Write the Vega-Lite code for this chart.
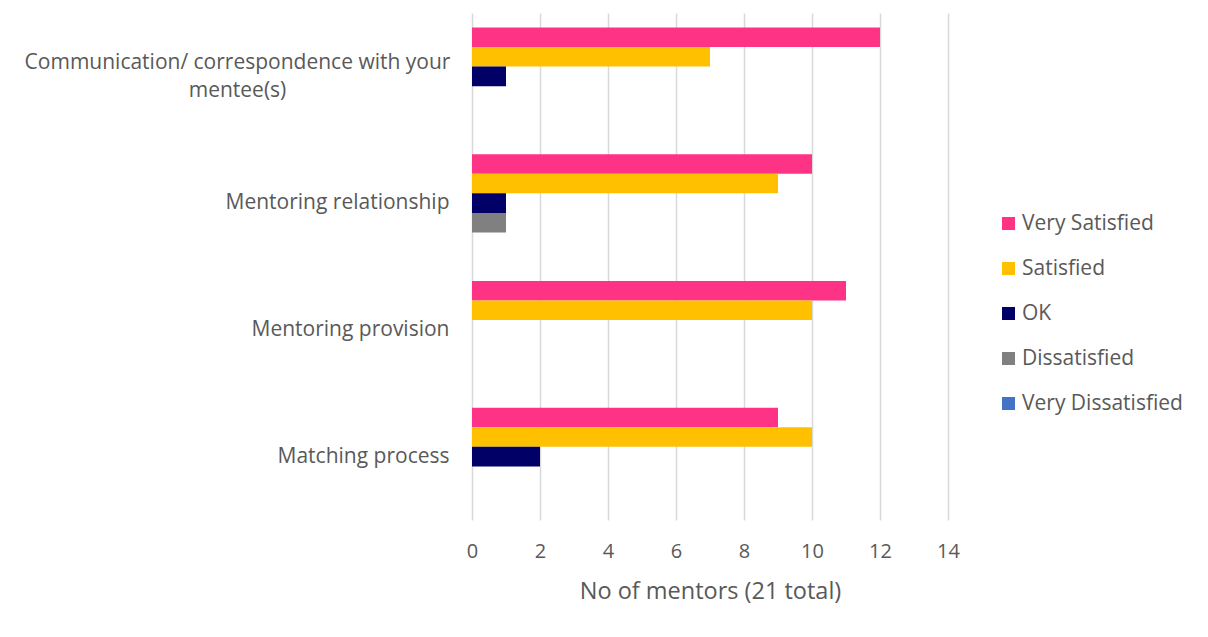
{
  "$schema": "https://vega.github.io/schema/vega-lite/v6.json",
  "width": 476,
  "height": 507,
  "autosize": {"type": "none"},
  "padding": {"left": 472, "top": 13, "right": 260, "bottom": 117},
  "background": "white",
  "config": {
    "font": "Open Sans",
    "view": {"stroke": null},
    "axis": {"labelColor": "#595959", "titleColor": "#595959", "labelFont": "Open Sans", "titleFont": "Open Sans"},
    "legend": {"labelFont": "Open Sans"}
  },
  "data": {
    "values": [
      {"item": "Communication/ correspondence with your mentee(s)", "rating": "Very Satisfied", "count": 12},
      {"item": "Communication/ correspondence with your mentee(s)", "rating": "Satisfied", "count": 7},
      {"item": "Communication/ correspondence with your mentee(s)", "rating": "OK", "count": 1},
      {"item": "Communication/ correspondence with your mentee(s)", "rating": "Dissatisfied", "count": 0},
      {"item": "Communication/ correspondence with your mentee(s)", "rating": "Very Dissatisfied", "count": 0},
      {"item": "Mentoring relationship", "rating": "Very Satisfied", "count": 10},
      {"item": "Mentoring relationship", "rating": "Satisfied", "count": 9},
      {"item": "Mentoring relationship", "rating": "OK", "count": 1},
      {"item": "Mentoring relationship", "rating": "Dissatisfied", "count": 1},
      {"item": "Mentoring relationship", "rating": "Very Dissatisfied", "count": 0},
      {"item": "Mentoring provision", "rating": "Very Satisfied", "count": 11},
      {"item": "Mentoring provision", "rating": "Satisfied", "count": 10},
      {"item": "Mentoring provision", "rating": "OK", "count": 0},
      {"item": "Mentoring provision", "rating": "Dissatisfied", "count": 0},
      {"item": "Mentoring provision", "rating": "Very Dissatisfied", "count": 0},
      {"item": "Matching process", "rating": "Very Satisfied", "count": 9},
      {"item": "Matching process", "rating": "Satisfied", "count": 10},
      {"item": "Matching process", "rating": "OK", "count": 2},
      {"item": "Matching process", "rating": "Dissatisfied", "count": 0},
      {"item": "Matching process", "rating": "Very Dissatisfied", "count": 0}
    ]
  },
  "mark": {"type": "bar"},
  "encoding": {
    "y": {
      "field": "item",
      "type": "nominal",
      "sort": ["Communication/ correspondence with your mentee(s)", "Mentoring relationship", "Mentoring provision", "Matching process"],
      "scale": {"paddingInner": 0.23, "paddingOuter": 0.115},
      "axis": {
        "title": null,
        "domain": false,
        "ticks": false,
        "grid": false,
        "labelFontSize": 21,
        "labelPadding": 23,
        "labelLimit": 600,
        "labelAlign": {"condition": {"test": "indexof(datum.value, 'Communication') == 0", "value": "center"}, "value": "right"},
        "labelLineHeight": 28,
        "labelExpr": "datum.label == 'Communication/ correspondence with your mentee(s)' ? ['Communication/ correspondence with your', 'mentee(s)'] : datum.label",
        "encoding": {
          "labels": {
            "dx": {"condition": {"test": "indexof(datum.value, 'Communication') == 0", "value": -212}, "value": 0},
            "dy": {"condition": {"test": "indexof(datum.value, 'Communication') == 0", "value": -13}, "value": 0}
          }
        }
      }
    },
    "yOffset": {
      "field": "rating",
      "type": "nominal",
      "sort": ["Very Satisfied", "Satisfied", "OK", "Dissatisfied", "Very Dissatisfied"],
      "scale": {"paddingInner": 0, "paddingOuter": 0}
    },
    "x": {
      "field": "count",
      "type": "quantitative",
      "scale": {"domain": [0, 14], "nice": false},
      "axis": {
        "title": "No of mentors (21 total)",
        "values": [0, 2, 4, 6, 8, 10, 12, 14],
        "domain": false,
        "ticks": false,
        "grid": true,
        "gridColor": "#d9d9d9",
        "gridWidth": 1.5,
        "labelFlush": false,
        "labelFontSize": 20,
        "labelPadding": 21,
        "titleFontSize": 23.5,
        "titleFontWeight": "normal",
        "titlePadding": 18
      }
    },
    "color": {
      "field": "rating",
      "type": "nominal",
      "sort": ["Very Satisfied", "Satisfied", "OK", "Dissatisfied", "Very Dissatisfied"],
      "scale": {
        "domain": ["Very Satisfied", "Satisfied", "OK", "Dissatisfied", "Very Dissatisfied"],
        "range": ["#FF3385", "#FFC000", "#000066", "#808080", "#4472C4"]
      },
      "legend": {
        "title": null,
        "orient": "none",
        "legendX": 526,
        "legendY": 200,
        "symbolType": "square",
        "symbolSize": 169,
        "symbolStrokeWidth": 0,
        "symbolOpacity": 1,
        "labelFontSize": 21,
        "labelColor": "#595959",
        "labelOffset": 3,
        "rowPadding": 23,
        "labelLimit": 300
      }
    }
  }
}
